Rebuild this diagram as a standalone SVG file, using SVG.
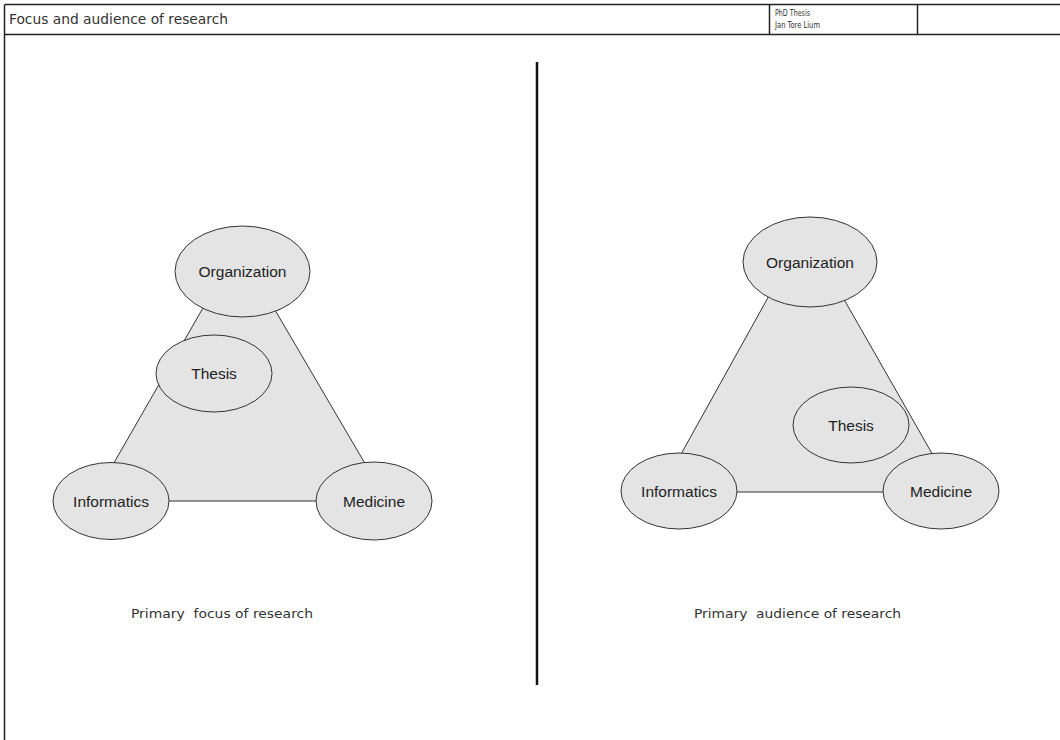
<svg xmlns="http://www.w3.org/2000/svg" width="1060" height="740" viewBox="0 0 1060 740">
<style>
.frame{fill:none;stroke:#222;stroke-width:1.5}
.tri{fill:#e4e4e4;stroke:#333;stroke-width:1}
.node{fill:#e4e4e4;stroke:#333;stroke-width:1}
.lbl{font-family:"Liberation Sans",Arial,sans-serif;font-size:15.5px;fill:#222;text-anchor:middle}
.hdr{font-family:"DejaVu Sans Condensed","Liberation Sans",sans-serif;fill:#333}
.cap{font-family:"DejaVu Sans Condensed","Liberation Sans",sans-serif;font-size:12.5px;fill:#333;white-space:pre}
</style>
<rect width="1060" height="740" fill="#fff"/>
<g id="frame">
<line class="frame" x1="4.5" y1="4.5" x2="1060" y2="4.5"/>
<line class="frame" x1="4.5" y1="34.5" x2="1060" y2="34.5"/>
<line class="frame" x1="4.5" y1="4.5" x2="4.5" y2="740"/>
<line class="frame" x1="769.5" y1="4.5" x2="769.5" y2="34.5"/>
<line class="frame" x1="917.5" y1="4.5" x2="917.5" y2="34.5"/>
<text class="hdr" x="9" y="24" font-size="13.5" textLength="219" lengthAdjust="spacingAndGlyphs">Focus and audience of research</text>
<text class="hdr" x="775" y="16" font-size="8.5" textLength="35" lengthAdjust="spacingAndGlyphs">PhD Thesis</text>
<text class="hdr" x="775" y="28" font-size="8.5" textLength="45" lengthAdjust="spacingAndGlyphs">Jan Tore Lium</text>
<line x1="537" y1="62" x2="537" y2="685" stroke="#111" stroke-width="2.5"/>
</g>
<g id="connectors">
<polygon class="tri" points="238,247 92,501 387,501"/>
<polygon class="tri" points="805,231 660,492 954,492"/>
</g>
<g id="left-organization"><ellipse class="node" cx="242.5" cy="271.5" rx="67.5" ry="45.5"/><text class="lbl" x="242.5" y="277">Organization</text></g>
<g id="left-thesis"><ellipse class="node" cx="214" cy="373.5" rx="58" ry="38.5"/><text class="lbl" x="214" y="379">Thesis</text></g>
<g id="left-informatics"><ellipse class="node" cx="111" cy="501" rx="58" ry="38.5"/><text class="lbl" x="111" y="506.5">Informatics</text></g>
<g id="left-medicine"><ellipse class="node" cx="374" cy="501" rx="58" ry="39"/><text class="lbl" x="374" y="506.5">Medicine</text></g>
<g id="right-organization"><ellipse class="node" cx="810" cy="262" rx="67" ry="45"/><text class="lbl" x="810" y="267.5">Organization</text></g>
<g id="right-thesis"><ellipse class="node" cx="851" cy="425" rx="58" ry="38"/><text class="lbl" x="851" y="430.5">Thesis</text></g>
<g id="right-informatics"><ellipse class="node" cx="679" cy="491" rx="58" ry="38"/><text class="lbl" x="679" y="496.5">Informatics</text></g>
<g id="right-medicine"><ellipse class="node" cx="941" cy="491" rx="58" ry="38"/><text class="lbl" x="941" y="496.5">Medicine</text></g>
<g id="captions">
<text class="cap" x="131" y="618" textLength="182" lengthAdjust="spacingAndGlyphs">Primary  focus of research</text>
<text class="cap" x="694" y="618" textLength="207" lengthAdjust="spacingAndGlyphs">Primary  audience of research</text>
</g>
</svg>
